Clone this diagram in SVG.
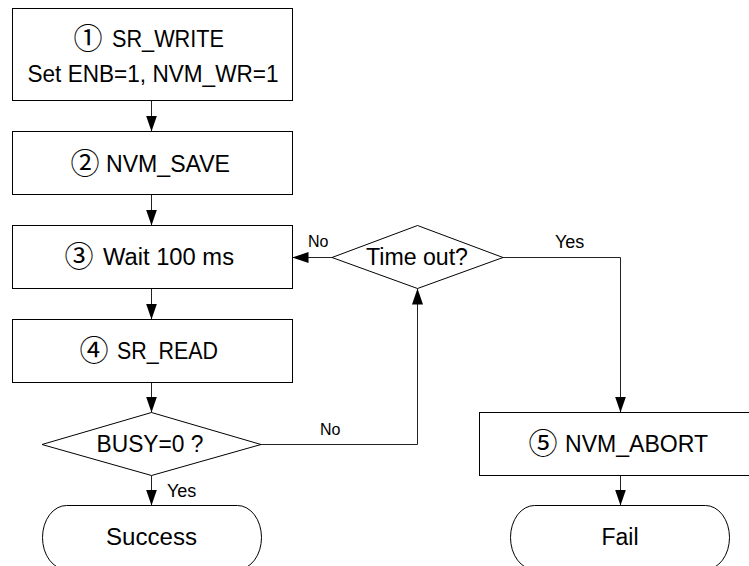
<svg xmlns="http://www.w3.org/2000/svg" width="749" height="566" viewBox="0 0 749 566">
<defs>
<style>
.shape{fill:#fff;stroke:#000;stroke-width:1}
.conn{fill:none;stroke:#222;stroke-width:1}
.t{font-family:"Liberation Sans","Noto Sans CJK JP",sans-serif;font-size:23px;fill:#000;text-anchor:middle}
.s{font-family:"Liberation Sans","Noto Sans CJK JP",sans-serif;font-size:23px;fill:#000;text-anchor:start}
.c{font-family:"Noto Sans CJK JP","DejaVu Sans",sans-serif;font-size:29px;fill:#000;text-anchor:middle}
.lbl{font-family:"Liberation Sans","Noto Sans CJK JP",sans-serif;fill:#000}
</style>
<marker id="arr" markerUnits="userSpaceOnUse" markerWidth="16" markerHeight="11" refX="16" refY="5.5" orient="auto">
<path d="M0,0 L16,5.5 L0,11 z" fill="#000"/>
</marker>
</defs>
<rect width="749" height="566" fill="#fff"/>
<g id="connectors">
<line class="conn" x1="151.5" y1="100.5" x2="151.5" y2="131.5" marker-end="url(#arr)"/>
<line class="conn" x1="151.5" y1="194.5" x2="151.5" y2="225.5" marker-end="url(#arr)"/>
<line class="conn" x1="151.5" y1="288.5" x2="151.5" y2="319.5" marker-end="url(#arr)"/>
<line class="conn" x1="151.5" y1="382.5" x2="151.5" y2="412.5" marker-end="url(#arr)"/>
<line class="conn" x1="151.5" y1="475.5" x2="151.5" y2="505.5" marker-end="url(#arr)"/>
<polyline class="conn" points="261,444.5 417.5,444.5 417.5,288.5" marker-end="url(#arr)"/>
<line class="conn" x1="332" y1="257.5" x2="292.5" y2="257.5" marker-end="url(#arr)"/>
<polyline class="conn" points="503,257.5 620.5,257.5 620.5,412.5" marker-end="url(#arr)"/>
<line class="conn" x1="620.5" y1="475.5" x2="620.5" y2="505.5" marker-end="url(#arr)"/>
<text class="lbl" font-size="16" x="308" y="247">No</text>
<text class="lbl" font-size="16" x="320" y="435">No</text>
<text class="lbl" font-size="18" x="555" y="248">Yes</text>
<text class="lbl" font-size="18" x="167" y="497">Yes</text>
</g>
<g id="n1">
<rect class="shape" x="12.5" y="8.5" width="280" height="92"/>
<text class="c" x="88" y="49">①</text>
<text class="s" x="112" y="47" textLength="112" lengthAdjust="spacingAndGlyphs">SR_WRITE</text>
<text class="t" x="153" y="82" textLength="251" lengthAdjust="spacingAndGlyphs">Set ENB=1, NVM_WR=1</text>
</g>
<g id="n2">
<rect class="shape" x="12.5" y="131.5" width="280" height="63"/>
<text class="c" x="85" y="174">②</text>
<text class="s" x="106" y="172" textLength="124" lengthAdjust="spacingAndGlyphs">NVM_SAVE</text>
</g>
<g id="n3">
<rect class="shape" x="12.5" y="225.5" width="280" height="63"/>
<text class="c" x="79" y="267">③</text>
<text class="s" x="103" y="265" textLength="131" lengthAdjust="spacingAndGlyphs">Wait 100 ms</text>
</g>
<g id="n4">
<rect class="shape" x="12.5" y="319.5" width="280" height="63"/>
<text class="c" x="94" y="361">④</text>
<text class="s" x="117" y="359" textLength="101" lengthAdjust="spacingAndGlyphs">SR_READ</text>
</g>
<g id="d1">
<polygon class="shape" points="151.5,412.5 261,444.5 151.5,475.5 42,444.5"/>
<text class="t" x="150" y="452" textLength="107" lengthAdjust="spacingAndGlyphs">BUSY=0 ?</text>
</g>
<g id="d2">
<polygon class="shape" points="417.5,225.5 503,257.5 417.5,288.5 332,257.5"/>
<text class="t" x="417" y="265" textLength="102" lengthAdjust="spacingAndGlyphs">Time out?</text>
</g>
<g id="n5">
<rect class="shape" x="479.5" y="412.5" width="282" height="63"/>
<text class="c" x="543" y="454">⑤</text>
<text class="s" x="565" y="452" textLength="143" lengthAdjust="spacingAndGlyphs">NVM_ABORT</text>
</g>
<g id="t1">
<rect class="shape" x="42.5" y="505.5" width="219" height="64" rx="24" ry="32"/>
<text class="t" x="151.5" y="545" textLength="91" lengthAdjust="spacingAndGlyphs">Success</text>
</g>
<g id="t2">
<rect class="shape" x="510.5" y="505.5" width="219" height="64" rx="24" ry="32"/>
<text class="t" x="620" y="545" textLength="37" lengthAdjust="spacingAndGlyphs">Fail</text>
</g>
</svg>
